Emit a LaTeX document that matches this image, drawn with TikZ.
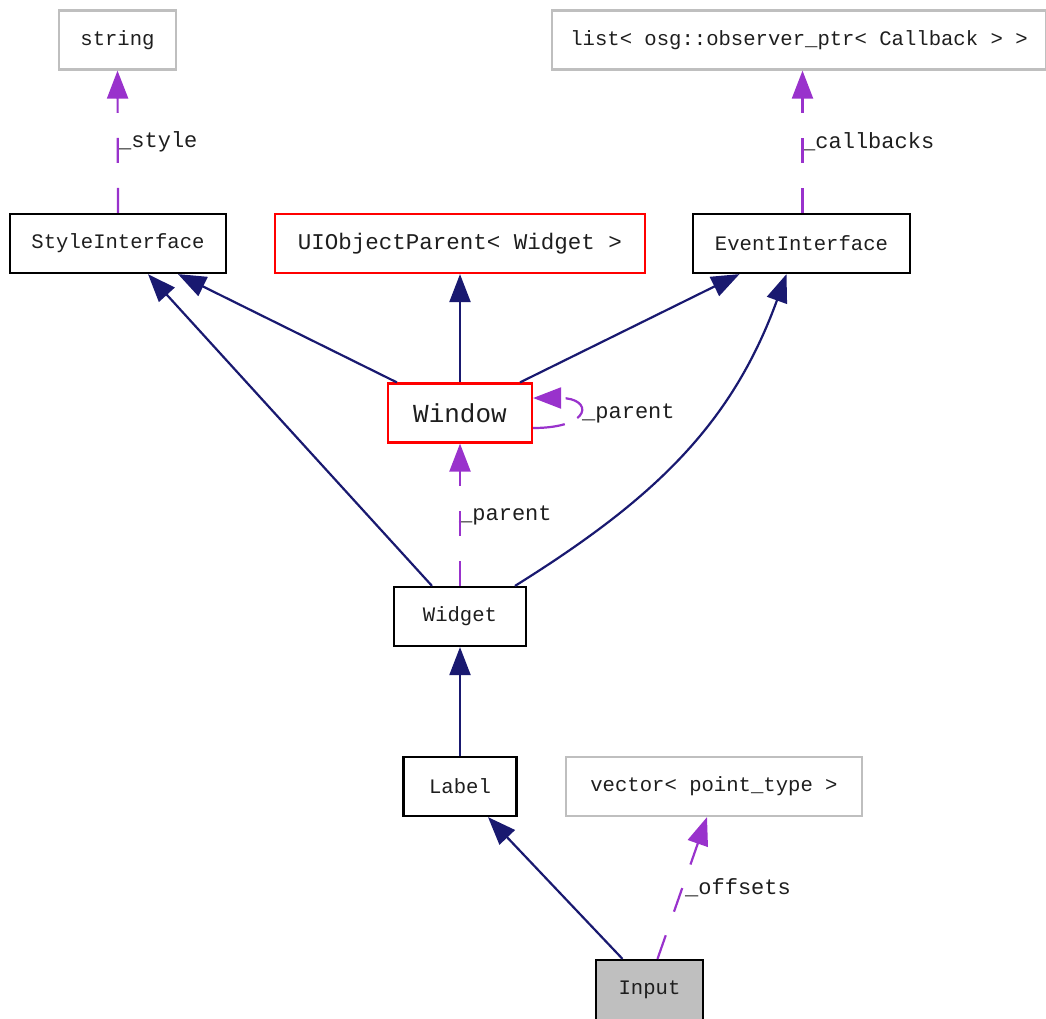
\documentclass[tikz,border=0pt]{standalone}
\usepackage{fontspec}
\setmonofont{Liberation Mono}
\usetikzlibrary{arrows.meta}
\definecolor{coloredge}{RGB}{25,25,112}
\definecolor{colorpart}{RGB}{153,50,204}
\definecolor{colorgrey}{RGB}{191,191,191}
\definecolor{colortext}{RGB}{30,30,30}

\begin{document}
\begin{tikzpicture}[
    x=1pt, y=-1pt,
    box/.style={draw=black,line width=2.2pt,inner sep=0pt,minimum height=59pt,
        text=colortext,font={\ttfamily\fontsize{20.6}{24}\selectfont}},
    extbox/.style={box,draw=colorgrey},
    redbox/.style={box,draw=red,font={\ttfamily\fontsize{22.5}{26}\selectfont}},
    lbl/.style={anchor=west,inner sep=0pt,text=colortext,
        font={\ttfamily\fontsize{22}{26}\selectfont}},
    inherit/.style={draw=coloredge,line width=2.2pt,-{Triangle[length=28pt,width=21pt]}},
    part/.style={draw=colorpart,line width=2.2pt,dash pattern=on 25pt off 25pt,
        -{Triangle[length=28pt,width=21pt]}},
]
    \useasboundingbox (0,0) rectangle (1046,1018);

    \node[extbox,minimum width=117pt] (str) at (117.5,40) {string};
    \node[extbox,minimum width=494pt] (lst) at (799,40) {list< osg::observer\_ptr< Callback > >};
    \node[box,minimum width=216pt] (sty) at (118,243.5) {StyleInterface};
    \node[redbox,minimum width=370pt] (uip) at (460,243.5) {UIObjectParent< Widget >};
    \node[box,minimum width=217pt] (evt) at (801.5,243.5) {EventInterface};
    \node[redbox,minimum width=144pt,font={\ttfamily\fontsize{26}{30}\selectfont}] (win) at (460,413) {Window};
    \node[box,minimum width=132pt] (wid) at (460,616.5) {Widget};
    \node[box,minimum width=113pt] (lab) at (460,786.5) {Label};
    \node[extbox,minimum width=296pt] (vec) at (714,786.5) {vector< point\_type >};
    \node[box,fill=colorgrey,minimum width=107pt,minimum height=60pt] (inp) at (649.5,990) {Input};

    \node[lbl] (lstyle) at (118,142) {\_style};
    \node[lbl] (lcall) at (802,142) {\_callbacks};
    \node[lbl] (lloop) at (582,413) {\_parent};
    \node[lbl] (lpar) at (459,515) {\_parent};
    \node[lbl] (loff) at (685,888) {\_offsets};

    \draw[part] (sty.north) -- (str.south);
    \draw[part] ([xshift=1pt]evt.north) -- ([xshift=3.5pt]lst.south);
    \draw[inherit] ([xshift=10pt]win.north west) -- ([xshift=60pt]sty.south);
    \draw[inherit] ([xshift=-28pt]wid.north) -- ([xshift=30pt]sty.south);
    \draw[inherit] (win.north) -- (uip.south);
    \draw[inherit] ([xshift=60pt]win.north) -- ([xshift=-62pt]evt.south);
    \draw[inherit] ([xshift=55pt]wid.north) to[out=32,in=-110] ([xshift=-15pt]evt.south);
    \draw[part,dash pattern=on 32pt off 14pt] ([yshift=-15pt]win.east) .. controls +(60,0) and +(60,0) .. ([yshift=15pt]win.east);
    \draw[part] (wid.north) -- (win.south);
    \draw[inherit] (lab.north) -- (wid.south);
    \draw[inherit] ([xshift=-27pt]inp.north) -- ([xshift=28pt]lab.south);
    \draw[part] ([xshift=8pt]inp.north) -- ([xshift=-7pt]vec.south);

\end{tikzpicture}
\end{document}
